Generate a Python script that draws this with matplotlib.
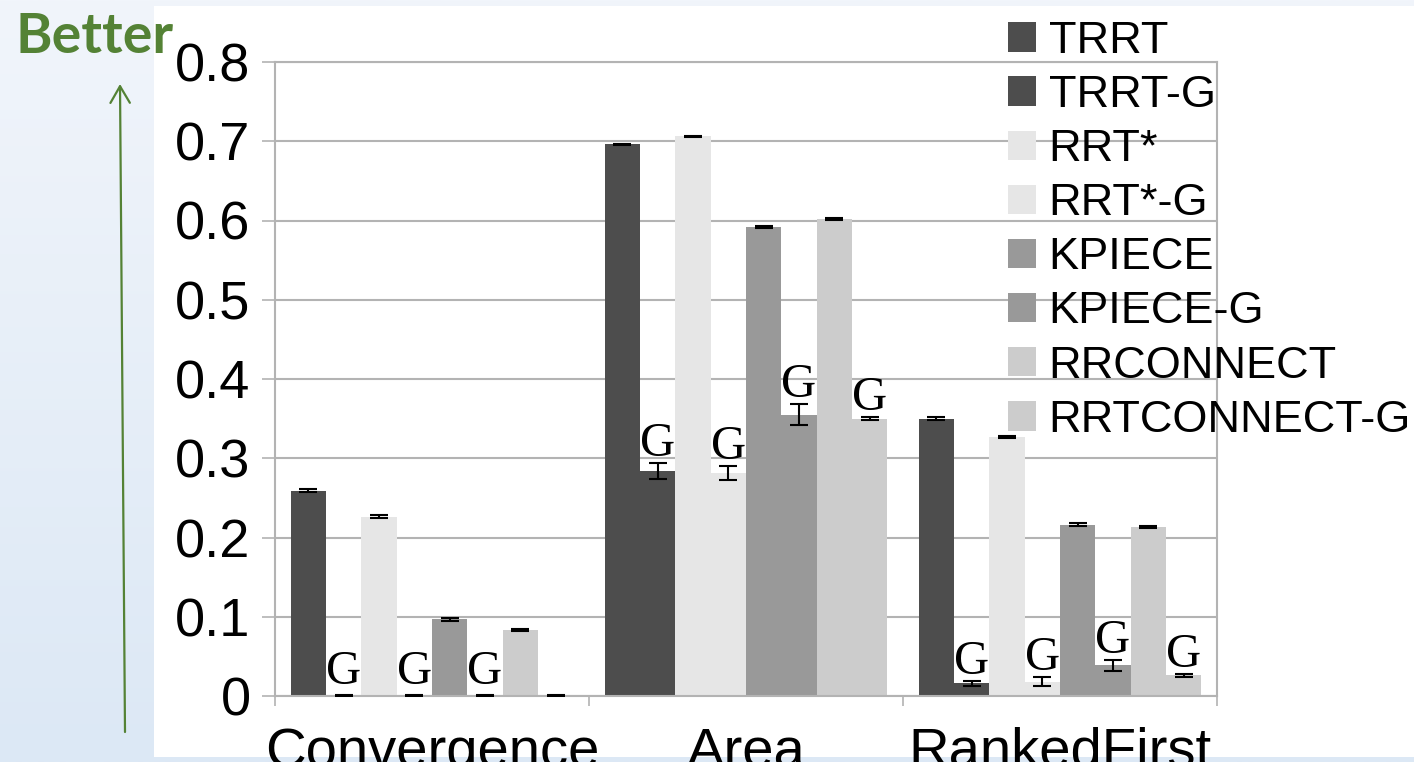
import numpy as np
import matplotlib
matplotlib.use("Agg")
import matplotlib.pyplot as plt
from matplotlib.patches import Patch, Rectangle

# ---- data ----
categories = ["Convergence", "Area", "RankedFirst"]
series = ["TRRT", "TRRT-G", "RRT*", "RRT*-G", "KPIECE", "KPIECE-G", "RRCONNECT", "RRTCONNECT-G"]

TRRT = [0.259, 0.696, 0.350]
TRRT_G = [0.0, 0.284, 0.016]
RRTSTAR = [0.226, 0.706, 0.327]
RRTSTAR_G = [0.0, 0.281, 0.018]
KPIECE = [0.097, 0.592, 0.216]
KPIECE_G = [0.0, 0.355, 0.039]
RRCONNECT = [0.083, 0.602, 0.213]
RRTCONNECT_G = [0.0, 0.350, 0.026]

TRRT_err = [0.002, 0.001, 0.002]
TRRT_G_err = [0.001, 0.010, 0.003]
RRTSTAR_err = [0.002, 0.001, 0.001]
RRTSTAR_G_err = [0.001, 0.009, 0.006]
KPIECE_err = [0.002, 0.001, 0.002]
KPIECE_G_err = [0.001, 0.013, 0.007]
RRCONNECT_err = [0.001, 0.001, 0.001]
RRTCONNECT_G_err = [0.001, 0.002, 0.002]

# which "-G" bars carry a "G" mark, per category
TRRT_G_mark = [True, True, True]
RRTSTAR_G_mark = [True, True, True]
KPIECE_G_mark = [True, True, True]
RRTCONNECT_G_mark = [False, True, True]

yticks = [0, 0.1, 0.2, 0.3, 0.4, 0.5, 0.6, 0.7, 0.8]
ytick_labels = ["0", "0.1", "0.2", "0.3", "0.4", "0.5", "0.6", "0.7", "0.8"]

values = [TRRT, TRRT_G, RRTSTAR, RRTSTAR_G, KPIECE, KPIECE_G, RRCONNECT, RRTCONNECT_G]
errors = [TRRT_err, TRRT_G_err, RRTSTAR_err, RRTSTAR_G_err, KPIECE_err, KPIECE_G_err,
          RRCONNECT_err, RRTCONNECT_G_err]
marks = [None, TRRT_G_mark, None, RRTSTAR_G_mark, None, KPIECE_G_mark, None, RRTCONNECT_G_mark]
colors = ["#4d4d4d", "#4d4d4d", "#e6e6e6", "#e6e6e6", "#999999", "#999999", "#cccccc", "#cccccc"]

W, H = 1414, 762
fig = plt.figure(figsize=(W / 100, H / 100), dpi=100)

# slide background (gradient) + white chart panel
bg = fig.add_axes([0, 0, 1, 1], zorder=-10)
grad = np.linspace(0, 1, 256).reshape(-1, 1)
top_c = np.array([0xf1, 0xf5, 0xfb]) / 255
bot_c = np.array([0xdc, 0xe8, 0xf5]) / 255
img = top_c[None, None, :] * (1 - grad[:, :, None]) + bot_c[None, None, :] * grad[:, :, None]
bg.imshow(img, aspect="auto", extent=[0, 1, 0, 1])
bg.add_patch(Rectangle((154 / W, (H - 757) / H), 1 - 154 / W, (757 - 6) / H,
                       facecolor="white", edgecolor="none"))
bg.set_xlim(0, 1)
bg.set_ylim(0, 1)
bg.axis("off")

ax = fig.add_axes([275 / W, (H - 696) / H, (1217 - 275) / W, (696 - 62) / H])
ax.set_facecolor("none")

x = np.arange(len(categories))
bw = 0.1124
n = len(series)
for i in range(n):
    pos = x + (i - (n - 1) / 2) * bw
    ax.bar(pos, values[i], width=bw, color=colors[i], edgecolor="none", zorder=2)
    ax.errorbar(pos, values[i], yerr=errors[i], fmt="none", ecolor="black",
                elinewidth=1.5, capsize=6.5, capthick=1.5, zorder=3)
    if marks[i] is not None:
        for j in range(len(categories)):
            if marks[i][j]:
                ytop = max(values[i][j] + errors[i][j], 0.006)
                ax.annotate("G", (pos[j], ytop), xytext=(0, 5), textcoords="offset points",
                            ha="center", va="baseline", fontsize=35,
                            family="Liberation Serif", color="black", zorder=4)

ax.set_xlim(-0.5, 2.5)
ax.set_ylim(0, 0.8)
ax.set_yticks(yticks)
ax.set_yticklabels(ytick_labels, fontsize=39, family="Liberation Sans")
ax.yaxis.grid(True, color="#b3b3b3", linewidth=1.5, zorder=0)
ax.set_axisbelow(True)

ax.set_xticks([-0.5, 0.5, 1.5, 2.5])
ax.set_xticklabels([])
ax.set_xticks(x, minor=True)
ax.set_xticklabels(categories, minor=True, fontsize=40.5, family="Liberation Sans")
ax.tick_params(axis="x", which="major", length=7.5, width=1.2, color="#b3b3b3", direction="out")
ax.tick_params(axis="x", which="minor", length=0, pad=22)
ax.tick_params(axis="y", length=9.5, width=1.2, color="#b3b3b3", direction="out", pad=8)

for s in ["left", "right", "top", "bottom"]:
    ax.spines[s].set_color("#b3b3b3")
    ax.spines[s].set_linewidth(1.5)

handles = [Patch(facecolor=c, edgecolor="none") for c in colors]
leg = fig.legend(handles, series, loc="upper left",
                 bbox_to_anchor=(1008 / W, (H - 21) / H), bbox_transform=fig.transFigure,
                 frameon=False, prop={"family": "Liberation Sans", "size": 32.5},
                 handlelength=0.63, handleheight=0.63, handletextpad=0.27,
                 labelspacing=0.29, borderpad=0, borderaxespad=0)

# "Better" annotation with arrow
fig.text(15 / W, (H - 53) / H, "Better", fontsize=40, fontweight="bold",
         family="Lato", color="#548235", ha="left", va="baseline")
bg.annotate("", xy=(120 / W, (H - 84) / H), xytext=(125 / W, (H - 732) / H),
            xycoords="axes fraction", textcoords="axes fraction",
            arrowprops=dict(arrowstyle="->,head_length=0.6,head_width=0.35",
                            color="#548235", lw=1.6, mutation_scale=20,
                            shrinkA=0, shrinkB=0))

fig.savefig("out.png", dpi=100)
